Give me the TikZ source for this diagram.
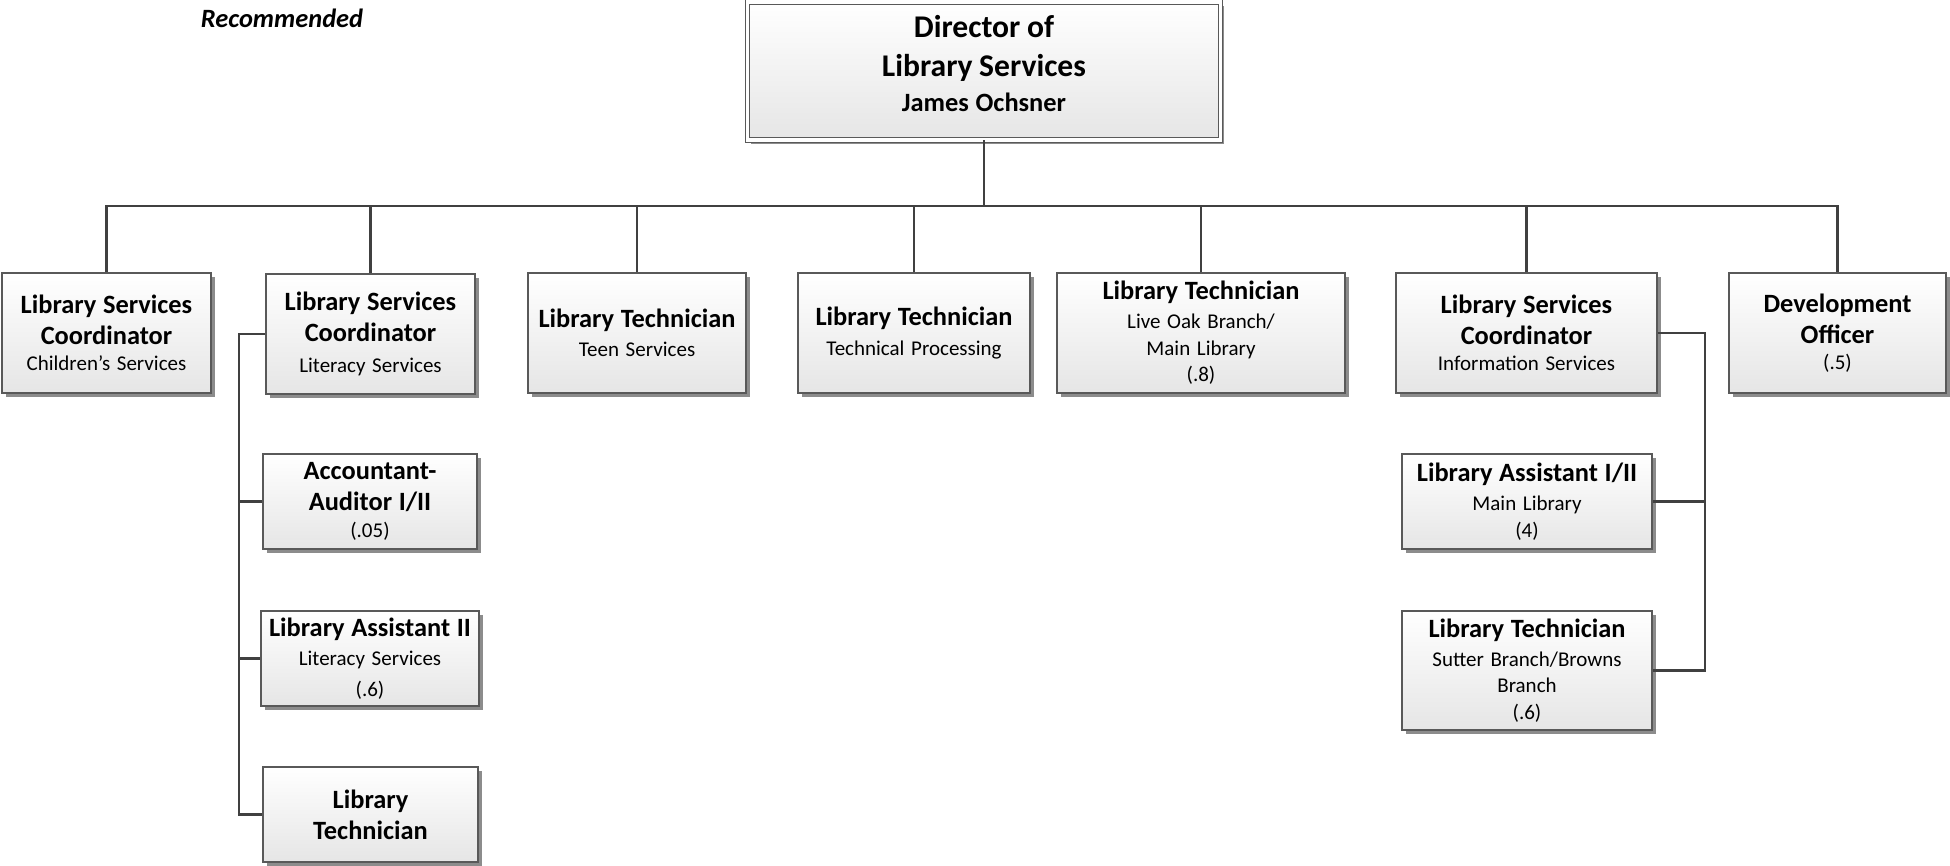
\documentclass[tikz,border=0pt]{standalone}
\usepackage{fontspec}
\setmainfont{Carlito}
\usetikzlibrary{shadows}

\newcommand{\ttl}{\fontsize{13.2}{15.5}\selectfont\bfseries}
\newcommand{\sub}{\fontsize{10.5}{13.2}\selectfont}

\begin{document}
\begin{tikzpicture}[x=0.5pt, y=-0.5pt,
  box/.style={rectangle, draw=black!65, line width=0.6pt,
              top color=white, bottom color=black!10,
              drop shadow={shadow xshift=1.8pt, shadow yshift=-1.8pt,
                           fill=black!45, opacity=1},
              inner xsep=0pt, inner ysep=1pt, text width=#1,
              align=center, minimum height=60pt},
  link/.style={draw=black!75, line width=1.2pt},
  tag/.style={font=\fontsize{13.2}{15}\selectfont\bfseries\itshape}
]
\useasboundingbox (0,0) rectangle (1950,866);

\node[tag] (rec) at (282,18) {Recommended};

\node[box=236.5pt, minimum height=69pt, double=white,
      double distance=1.8pt, line width=0.5pt] (dir) at (984,71)
  {{\fontsize{15.8}{19.5}\selectfont\bfseries Director of\\Library Services\par}
   {\fontsize{13.2}{17.5}\selectfont\bfseries James Ochsner\rule[-8pt]{0pt}{0pt}\par}};

% first level
\node[box=104.5pt] (c1) at (106.5,333) {{\ttl Library Services\\Coordinator\par}{\sub\rule{0pt}{11.5pt}Children's Services\par}};
\node[box=104.5pt] (c2) at (370.5,334) {{\ttl Library Services\\Coordinator\par}{\sub\rule{0pt}{14.5pt}Literacy Services\par}};
\node[box=109pt] (c3) at (637,333) {{\ttl Library Technician\par}{\sub\rule{0pt}{11.5pt}Teen Services\par}};
\node[box=116pt] (c4) at (914,333) {{\ttl Library Technician\par}{\sub\rule{0pt}{11.5pt}Technical Processing\par}};
\node[box=144pt] (c5) at (1201,333) {{\ttl Library Technician\par}{\sub\rule{0pt}{11.5pt}Live Oak Branch/\\Main Library\\(.8)\par}};
\node[box=130.5pt] (c6) at (1526.5,333) {{\ttl Library Services\\Coordinator\par}{\sub\rule{0pt}{11.5pt}Information Services\par}};
\node[box=108.5pt] (c7) at (1837.5,333) {{\ttl Development\\Officer\par}{\sub\rule{0pt}{11.5pt}(.5)\par}};

% literacy services
\node[box=107pt, minimum height=47.5pt] (a1) at (370,501.5) {{\ttl Accountant-\\Auditor I/II\par}{\sub\rule{0pt}{11.5pt}(.05)\par}};
\node[box=109pt, minimum height=47.5pt] (a2) at (370,658.5) {{\ttl Library Assistant II\par}{\sub\rule{0pt}{11.5pt}Literacy Services\\\rule{0pt}{12.5pt}(.6)\par}};
\node[box=107.5pt, minimum height=47.5pt] (a3) at (370.5,814.5) {{\ttl Library\\Technician\par}};

% information services
\node[box=125pt, minimum height=47.5pt] (r1) at (1527,501.5) {{\ttl Library Assistant I/II\par}{\sub\rule{0pt}{11.5pt}Main Library\\(4)\par}};
\node[box=125pt, minimum height=59.5pt] (r2) at (1527,670.5) {{\ttl Library Technician\par}{\sub\rule{0pt}{11.5pt}Sutter Branch/Browns\\Branch\\(.6)\par}};

\coordinate (bus) at (984,206);
\draw[link] (dir.south) -- (bus);
\foreach \i in {1,...,7}
  \draw[link] (c\i.north) |- (bus);

\coordinate (lbar) at (239,0);
\draw[link] (c2.west) -- (c2.west -| lbar) |- (a3.west);
\draw[link] (lbar |- a1.west) -- (a1.west);
\draw[link] (lbar |- a2.west) -- (a2.west);

\coordinate (rbar) at (1705,0);
\draw[link] (c6.east) -- (c6.east -| rbar) |- (r2.east);
\draw[link] (rbar |- r1.east) -- (r1.east);
\end{tikzpicture}
\end{document}
